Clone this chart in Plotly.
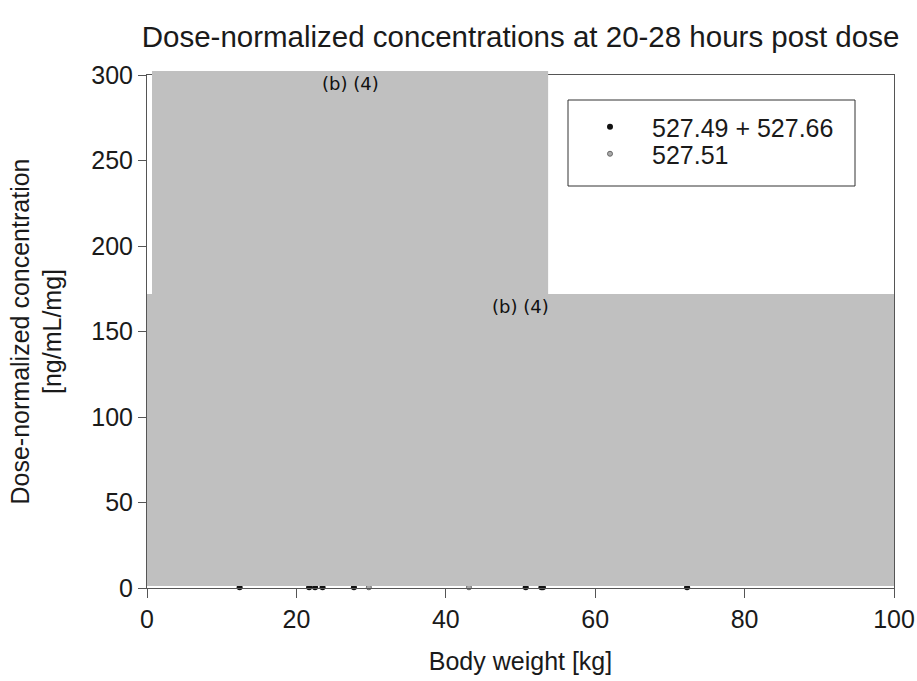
import plotly.graph_objects as go

# ---- data ----
series_names = ["527.49 + 527.66", "527.51"]
weight_a = [12.4, 21.7, 22.5, 23.5, 27.7, 50.7, 52.8, 53.0, 72.3]
conc_a = [0.4, 0.4, 0.4, 0.4, 0.4, 0.4, 0.4, 0.4, 0.4]
weight_b = [29.7, 43.1]
conc_b = [0.4, 0.4]
x_ticks = [0, 20, 40, 60, 80, 100]
y_ticks = [0, 50, 100, 150, 200, 250, 300]
redaction_label = "(b) (4)"

W, H = 917, 681
L, R, T, B = 147, 23, 75, 93
pw, ph = W - L - R, H - T - B

def px_x(p):
    return (p - L) / pw

def px_y(p):
    return (H - B - p) / ph

FONT = "Liberation Sans, Arial, sans-serif"
TXT = "#1a1a1a"
FS = 25

fig = go.Figure()
fig.add_trace(go.Scatter(
    x=weight_a, y=conc_a, mode="markers", name=series_names[0],
    marker=dict(symbol="circle", size=6, color="#111111"),
    cliponaxis=False, legend="legend",
))
fig.add_trace(go.Scatter(
    x=weight_b, y=conc_b, mode="markers", name=series_names[1],
    marker=dict(symbol="circle", size=5, color="#aaaaaa",
                line=dict(color="#666666", width=1)),
    cliponaxis=False, legend="legend2",
))

GRAY = "#c0c0c0"
# redaction boxes
fig.add_shape(type="rect", xref="x", yref="paper", x0=0.67, x1=53.7,
              y0=px_y(294), y1=px_y(71),
              fillcolor=GRAY, line=dict(width=0), layer="above")
fig.add_shape(type="rect", xref="x", yref="paper", x0=0, x1=100,
              y0=px_y(586), y1=px_y(294),
              fillcolor=GRAY, line=dict(width=0), layer="above")
fig.add_annotation(x=27.2, y=px_y(71), xref="x", yref="paper", text=redaction_label,
                   showarrow=False, yanchor="top", yshift=0,
                   font=dict(family="DejaVu Sans", size=18, color="#111111"))
fig.add_annotation(x=50, y=px_y(294), xref="x", yref="paper", text=redaction_label,
                   showarrow=False, yanchor="top", yshift=0,
                   font=dict(family="DejaVu Sans", size=18, color="#111111"))

# legend frame
fig.add_shape(type="rect", xref="paper", yref="paper",
              x0=px_x(568), x1=px_x(855), y0=px_y(186), y1=px_y(100),
              line=dict(color="#333333", width=1), fillcolor="rgba(0,0,0,0)", layer="above")

axis_common = dict(
    showgrid=False, zeroline=False, showline=True, linecolor="#555555", linewidth=1,
    mirror=True, ticks="outside", tickcolor="#555555", tickwidth=1,
    tickfont=dict(family=FONT, size=FS, color=TXT),
)

legend_common = dict(xanchor="left", yanchor="top", xref="paper", yref="paper",
                     bgcolor="rgba(0,0,0,0)", borderwidth=0, itemwidth=74,
                     font=dict(family=FONT, size=FS, color=TXT))

fig.update_layout(
    width=W, height=H,
    margin=dict(l=L, r=R, t=T, b=B, autoexpand=False),
    paper_bgcolor="white", plot_bgcolor="white",
    font=dict(family=FONT, color=TXT),
    title=dict(text="Dose-normalized concentrations at 20-28 hours post dose",
               x=0.5, xref="paper", xanchor="center",
               y=1 - 37 / H, yref="container", yanchor="middle",
               font=dict(family=FONT, size=29.5, color=TXT)),
    xaxis=dict(range=[0, 100], tickvals=x_ticks, ticklen=9,
               title=dict(text="Body weight [kg]", font=dict(family=FONT, size=FS, color=TXT),
                          standoff=20),
               **axis_common),
    yaxis=dict(range=[0, 300], tickvals=y_ticks, ticklen=8, automargin=True,
               title=dict(text="Dose-normalized concentration<br>[ng/mL/mg]",
                          font=dict(family=FONT, size=FS, color=TXT), standoff=22),
               **axis_common),
    showlegend=True,
    legend=dict(x=px_x(568), y=px_y(104), **legend_common),
    legend2=dict(x=px_x(568), y=px_y(131), **legend_common),
)

fig.write_html("out.html")
